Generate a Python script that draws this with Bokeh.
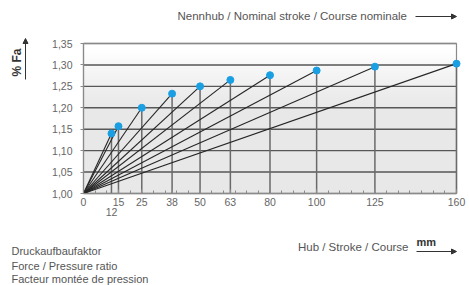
import numpy as np
from bokeh.plotting import figure
from bokeh.models import (Range1d, FixedTicker, LinearAxis, Label, Arrow,
                          NormalHead, ColumnDataSource)
from bokeh.embed import file_html
from bokeh.resources import INLINE

# ---- data ----
strokes = [12, 15, 25, 38, 50, 63, 80, 100, 125, 160]
factors = [1.14, 1.157, 1.20, 1.233, 1.25, 1.265, 1.276, 1.287, 1.296, 1.303]
x_ticks = [0, 15, 25, 38, 50, 63, 80, 100, 125, 160]
x_tick_extra = [12]
y_ticks = [1.00, 1.05, 1.10, 1.15, 1.20, 1.25, 1.30, 1.35]
y_labels = ["1,00", "1,05", "1,10", "1,15", "1,20", "1,25", "1,30", "1,35"]
x_min, x_max = 0, 160
y_min, y_max = 1.00, 1.35

# ---- layout (pixels on the canvas) ----
W, H = 469, 285
BOX_L, BOX_R, BOX_T, BOX_B = 83, 456, 43, 193
kx = (BOX_R - BOX_L) / (x_max - x_min)
ky = (BOX_B - BOX_T) / (y_max - y_min)
xr = Range1d(x_min - BOX_L / kx, x_max + (W - BOX_R) / kx)
yr = Range1d(y_min - (H - BOX_B) / ky, y_max + BOX_T / ky)

FONT = "Liberation Sans"
TXT = "#555555"
AXC = "#8a8a8a"

p = figure(width=W, height=H, output_backend="svg", toolbar_location=None,
           x_range=xr, y_range=yr, x_axis_type=None, y_axis_type=None,
           min_border=0, min_border_left=0, min_border_right=0,
           min_border_top=0, min_border_bottom=0)
p.background_fill_color = "white"
p.border_fill_color = "white"
p.outline_line_color = None
p.xgrid.visible = False
p.ygrid.visible = False

# gradient background in the chart box
n = 100
t = np.linspace(0, 1, n)  # 0 bottom -> 1 top
g = 232 + 23 * np.clip((t - 0.55) / 0.4, 0, 1) ** 1.2
img = np.zeros((n, 2), dtype=np.uint32)
view = img.view(dtype=np.uint8).reshape((n, 2, 4))
for i in range(n):
    view[i, :, 0:3] = int(g[i])
    view[i, :, 3] = 255
p.image_rgba(image=[img], x=x_min, y=y_min, dw=x_max - x_min, dh=y_max - y_min)

# horizontal grid lines from the y ticks
p.segment(x0=[x_min] * len(y_ticks), x1=[x_max] * len(y_ticks), y0=y_ticks,
          y1=y_ticks, line_color="#575757", line_width=1.4)
# box outline
p.segment(x0=[x_min, x_max, x_min], x1=[x_min, x_max, x_max],
          y0=[y_min, y_min, y_max], y1=[y_max, y_max, y_max],
          line_color=AXC, line_width=1.2)

# axes
xax = LinearAxis(fixed_location=y_min, bounds=(x_min, x_max),
                 ticker=FixedTicker(ticks=x_ticks, minor_ticks=list(range(0, 161, 5))))
yax = LinearAxis(fixed_location=x_min, bounds=(y_min, y_max),
                 ticker=FixedTicker(ticks=y_ticks),
                 major_label_overrides={v: l for v, l in zip(y_ticks, y_labels)})
x2 = LinearAxis(fixed_location=y_min, ticker=FixedTicker(ticks=x_tick_extra),
                axis_line_color=None, major_tick_line_color=None,
                minor_tick_line_color=None)
for ax in (xax, yax, x2):
    if ax is not x2:
        ax.axis_line_color = AXC
        ax.axis_line_width = 1.2
        ax.major_tick_line_color = AXC
        ax.minor_tick_line_color = AXC
    ax.major_label_text_color = "#666666"
    ax.major_label_text_font = FONT
    ax.major_label_text_font_size = "10.5px"
yax.major_tick_out = 3
yax.major_tick_in = 0
yax.minor_tick_line_color = None
yax.major_label_standoff = 8
xax.major_tick_out = 0
xax.major_tick_in = 4
xax.minor_tick_in = 3
xax.minor_tick_out = 0
xax.major_label_standoff = 4
x2.major_tick_out = 0
x2.major_tick_in = 0
x2.major_label_standoff = 14
p.add_layout(xax, "below")
p.add_layout(x2, "below")
p.add_layout(yax, "left")

# data marks
src = ColumnDataSource(dict(x0=[x_min] * len(strokes), y0=[y_min] * len(strokes),
                            x=strokes, y=factors))
p.segment(x0="x", y0="y0", x1="x", y1="y", source=src, line_color="#6a6a6a",
          line_width=1.5)
p.segment(x0="x0", y0="y0", x1="x", y1="y", source=src, line_color="#262626",
          line_width=1.1)
p.scatter(x="x", y="y", source=src, size=7, fill_color="#1a9fe3",
          line_color="#1a9fe3")

# texts (canvas coordinates, measured from top-left)
def lab(x, y, text, size="11px", style="normal", align="left", angle=0,
        baseline="middle", color=TXT):
    p.add_layout(Label(x=x, y=y, x_units="canvas", y_units="canvas",
                       text=text, text_font=FONT, text_font_size=size,
                       text_font_style=style, text_color=color,
                       text_align=align, text_baseline=baseline, angle=angle))

def arr(x0, y0, x1, y1):
    p.add_layout(Arrow(x_start=x0, y_start=y0, x_end=x1, y_end=y1,
                       start_units="canvas", end_units="canvas",
                       line_color="#333333", line_width=1,
                       end=NormalHead(size=5, fill_color="#333333",
                                      line_color="#333333")))

lab(177, 15, "Nennhub / Nominal stroke / Course nominale", size="11.5px")
arr(415, 16, 456, 16)
lab(16, 62, "% Fa", size="12px", style="bold", align="center", angle=np.pi / 2,
    color="#333333")
arr(25, 79, 25, 38)
lab(11, 250, "Druckaufbaufaktor")
lab(11, 265, "Force / Pressure ratio")
lab(11, 278, "Facteur montée de pression")
lab(408, 246, "Hub / Stroke / Course", size="11.5px", align="right")
lab(416, 241, "mm", size="11px", style="bold", color="#333333")
arr(416, 251, 456, 251)

open("out.html", "w").write(file_html(p, INLINE))
